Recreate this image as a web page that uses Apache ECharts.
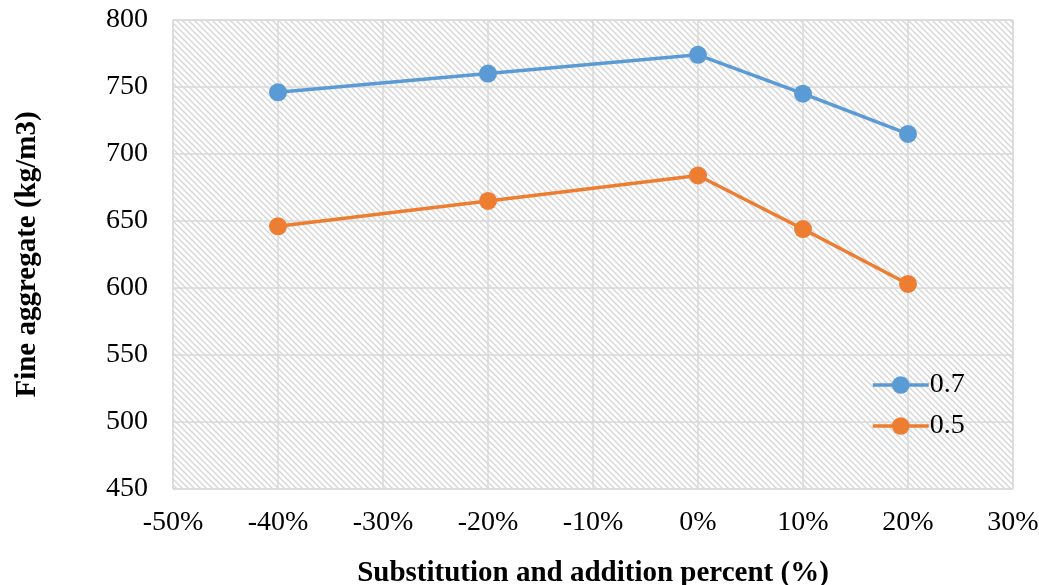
<!DOCTYPE html>
<html>
<head>
<meta charset="utf-8">
<script src="https://cdn.jsdelivr.net/npm/echarts@6/dist/echarts.min.js"></script>
<style>
html,body{margin:0;padding:0;background:#fff;}
#main{width:1039px;height:585px;}
</style>
</head>
<body>
<div id="main"></div>
<script>
// 数据
var percent = [-40, -20, 0, 10, 20];
var fine07 = [746, 760, 774, 745, 715];
var fine05 = [646, 665, 684, 644, 603];
var seriesNames = ['0.7', '0.5'];

function pair(xs, ys){
	var out = [];
	for (var i in xs) {
		out.push([xs[i], ys[i]]);
	}
	return out;
}

// 斜线底纹
function hatch(){
	var c = document.createElement('canvas');
	c.width = 6; c.height = 6;
	var ctx = c.getContext('2d');
	ctx.fillStyle = '#ffffff';
	ctx.fillRect(0, 0, 6, 6);
	ctx.strokeStyle = '#d4d4d4';
	ctx.lineWidth = 1.3;
	ctx.beginPath();
	ctx.moveTo(-1, -1); ctx.lineTo(7, 7);
	ctx.moveTo(-1, 5); ctx.lineTo(1, 7);
	ctx.moveTo(5, -1); ctx.lineTo(7, 1);
	ctx.stroke();
	return c;
}

var font = '"Liberation Serif", "Times New Roman", serif';
var myChart = echarts.init(document.getElementById('main'));
var option = {
	animation: false,
	grid: {
		left: 173,
		right: 26,
		top: 20,
		bottom: 96,
		outerBoundsMode: 'none',
		containLabel: false,
		show: true,
		borderColor: '#d9d9d9',
		borderWidth: 1,
		backgroundColor: {image: hatch(), repeat: 'repeat'}
	},
	legend: {
		orient: 'vertical',
		left: 866,
		top: 366,
		itemWidth: 56,
		itemHeight: 22,
		itemGap: 13,
		lineStyle: {width: 3.5},
		textStyle: {fontFamily: font, fontSize: 28, color: '#000', padding: [0, 0, 0, -4]},
		data: seriesNames
	},
	xAxis: {
		type: 'value',
		min: -50,
		max: 30,
		interval: 10,
		name: 'Substitution and addition percent (%)',
		nameLocation: 'middle',
		nameGap: 70,
		nameTextStyle: {fontFamily: font, fontSize: 29, fontWeight: 'bold', color: '#000'},
		axisLine: {show: false},
		axisTick: {show: false},
		axisLabel: {fontFamily: font, fontSize: 28, color: '#000', margin: 20, formatter: '{value}%'},
		splitLine: {show: true, lineStyle: {color: '#d9d9d9', width: 1.5}}
	},
	yAxis: {
		type: 'value',
		min: 450,
		max: 800,
		interval: 50,
		name: 'Fine aggregate (kg/m3)',
		nameLocation: 'middle',
		nameGap: 131,
		nameTextStyle: {fontFamily: font, fontSize: 29, fontWeight: 'bold', color: '#000'},
		axisLine: {show: false},
		axisTick: {show: false},
		axisLabel: {fontFamily: font, fontSize: 28, color: '#000', margin: 25},
		splitLine: {show: true, lineStyle: {color: '#d9d9d9', width: 1.5}}
	},
	series: [{
		name: seriesNames[0],
		type: 'line',
		data: pair(percent, fine07),
		symbol: 'circle',
		symbolSize: 18,
		color: '#5b9bd5',
		lineStyle: {width: 3.5, color: '#5b9bd5'},
		itemStyle: {color: '#5b9bd5'}
	}, {
		name: seriesNames[1],
		type: 'line',
		data: pair(percent, fine05),
		symbol: 'circle',
		symbolSize: 18,
		color: '#ed7d31',
		lineStyle: {width: 3.5, color: '#ed7d31'},
		itemStyle: {color: '#ed7d31'}
	}]
};
myChart.setOption(option);
</script>
</body>
</html>
